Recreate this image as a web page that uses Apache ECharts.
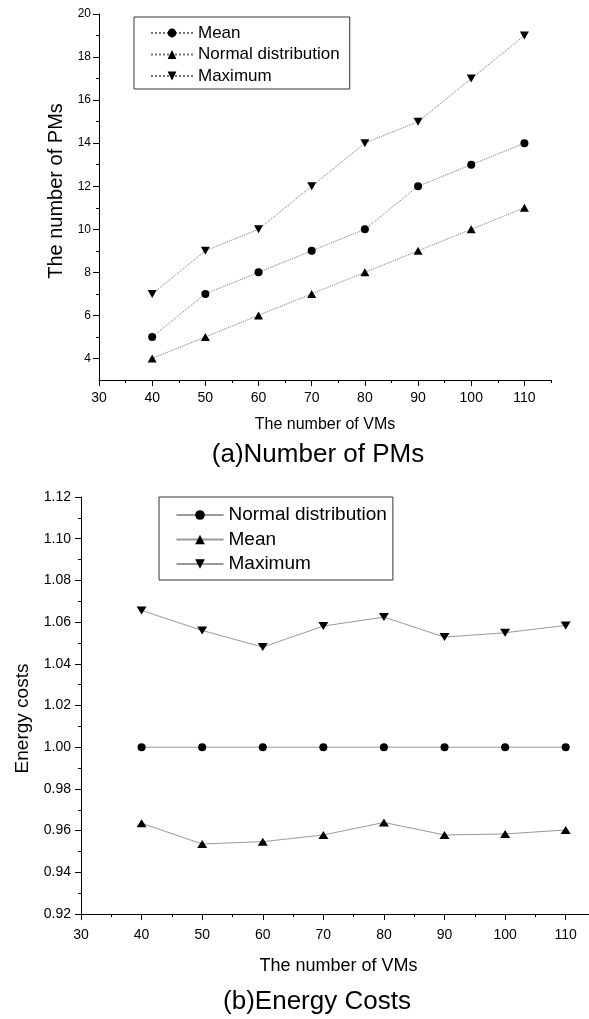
<!DOCTYPE html>
<html><head><meta charset="utf-8">
<script src="https://cdn.jsdelivr.net/npm/echarts@6/dist/echarts.min.js"></script>
<style>html,body{margin:0;padding:0;background:#fff}#c{width:589px;height:1019px}</style>
</head><body><div id="c"></div>
<script>
// ---- data ----
const vms = [40, 50, 60, 70, 80, 90, 100, 110];
const pmMean = [5, 7, 8, 9, 10, 12, 13, 14];
const pmNormal = [4, 5, 6, 7, 8, 9, 10, 11];
const pmMax = [7, 9, 10, 12, 14, 15, 17, 19];
const ecNormal = [1.00, 1.00, 1.00, 1.00, 1.00, 1.00, 1.00, 1.00];
const ecMean = [0.9635, 0.9536, 0.9547, 0.9579, 0.9639, 0.9579, 0.9584, 0.9603];
const ecMax = [1.0656, 1.0560, 1.0480, 1.0581, 1.0624, 1.0528, 1.0549, 1.0584];
// ---- tick labels ----
const xMajorTicks = [30, 40, 50, 60, 70, 80, 90, 100, 110];
const xMinorTicks = [35, 45, 55, 65, 75, 85, 95, 105, 115];
const pmMajorTicks = [4, 6, 8, 10, 12, 14, 16, 18, 20];
const pmMinorTicks = [5, 7, 9, 11, 13, 15, 17, 19];
const ecMajorTicks = [0.92, 0.94, 0.96, 0.98, 1.00, 1.02, 1.04, 1.06, 1.08, 1.10, 1.12];
const ecMinorTicks = [0.93, 0.95, 0.97, 0.99, 1.01, 1.03, 1.05, 1.07, 1.09, 1.11];

const FONT = '"Liberation Sans", Arial, sans-serif';
const pairs = (xs, ys) => xs.map((x, i) => [x, ys[i]]);

function majorAxis(grid, pos, min, max, ticks, fontSize, margin, fmt, name, nameGap, nameSize, namePad) {
  return {
    type: 'value', gridIndex: grid, position: pos, offset: 0, min: min, max: max,
    axisLine: { show: true, onZero: false, lineStyle: { color: '#000', width: 1 } },
    axisTick: { show: true, inside: false, length: 6, customValues: ticks, lineStyle: { color: '#000', width: 1 } },
    axisLabel: { show: true, customValues: ticks, fontSize: fontSize, fontFamily: FONT, color: '#000', margin: margin, formatter: fmt },
    splitLine: { show: false },
    name: name, nameLocation: 'middle', nameGap: nameGap,
    nameTextStyle: { fontSize: nameSize, fontFamily: FONT, color: '#000', padding: namePad }
  };
}
function minorAxis(grid, pos, min, max, ticks) {
  return {
    type: 'value', gridIndex: grid, position: pos, offset: 0, min: min, max: max,
    axisLine: { show: false, onZero: false },
    axisTick: { show: true, inside: false, length: 3, customValues: ticks, lineStyle: { color: '#000', width: 1 } },
    axisLabel: { show: false },
    splitLine: { show: false }
  };
}

const lineA = { color: '#777', width: 1, type: 'dotted' };
const lineB = { color: '#999', width: 1, type: 'solid' };

const option = {
  animation: false,
  backgroundColor: '#fff',
  textStyle: { fontFamily: FONT },
  grid: [
    { left: 99, top: 14, width: 452, height: 366, outerBoundsMode: 'none', containLabel: false },
    { left: 81, top: 497, width: 515, height: 417, outerBoundsMode: 'none', containLabel: false }
  ],
  xAxis: [
    majorAxis(0, 'bottom', 30, 115, xMajorTicks, 14, 11, v => String(v), 'The number of VMs', 37, 16, 0),
    minorAxis(0, 'bottom', 30, 115, xMinorTicks),
    majorAxis(1, 'bottom', 30, 115, xMajorTicks, 14, 14, v => String(v), 'The number of VMs', 43, 18, 0),
    minorAxis(1, 'bottom', 30, 115, xMinorTicks)
  ],
  yAxis: [
    majorAxis(0, 'left', 3, 20, pmMajorTicks, 12, 8, v => String(v), 'The number of PMs', 30, 20, [0, 0, 0, 12]),
    minorAxis(0, 'left', 3, 20, pmMinorTicks),
    majorAxis(1, 'left', 0.92, 1.12, ecMajorTicks, 14, 10, v => v.toFixed(2), 'Energy costs', 49, 19, [0, 26, 0, 0]),
    minorAxis(1, 'left', 0.92, 1.12, ecMinorTicks)
  ],
  legend: [
    {
      orient: 'vertical', left: 134, top: 17,
      data: ['Mean', 'Normal distribution', 'Maximum'],
      padding: [6, 10, 3, 16], itemWidth: 42, itemHeight: 11, itemGap: 1.5,
      borderColor: '#333', borderWidth: 1, selectedMode: false,
      textStyle: { fontSize: 17, lineHeight: 20, fontFamily: FONT, color: '#000' }
    },
    {
      orient: 'vertical', left: 159, top: 497,
      data: ['b:Normal distribution', 'b:Mean', 'b:Maximum'],
      formatter: n => n.replace(/^b:/, ''),
      padding: [7, 6, 5, 16.5], itemWidth: 47, itemHeight: 12, itemGap: 2.5,
      borderColor: '#333', borderWidth: 1, selectedMode: false,
      textStyle: { fontSize: 19, lineHeight: 22, fontFamily: FONT, color: '#000' }
    }
  ],
  graphic: [
    { type: 'text', x: 318, y: 455, style: { text: '(a)Number of PMs', fontSize: 26, fontFamily: FONT, fill: '#000', align: 'center', verticalAlign: 'middle' } },
    { type: 'text', x: 317, y: 1002, style: { text: '(b)Energy Costs', fontSize: 26, fontFamily: FONT, fill: '#000', align: 'center', verticalAlign: 'middle' } }
  ],
  series: [
    { name: 'Mean', type: 'line', xAxisIndex: 0, yAxisIndex: 0, data: pairs(vms, pmMean),
      symbol: 'circle', symbolSize: 8, itemStyle: { color: '#000' }, lineStyle: lineA },
    { name: 'Normal distribution', type: 'line', xAxisIndex: 0, yAxisIndex: 0, data: pairs(vms, pmNormal),
      symbol: 'triangle', symbolSize: [9, 8], itemStyle: { color: '#000' }, lineStyle: lineA },
    { name: 'Maximum', type: 'line', xAxisIndex: 0, yAxisIndex: 0, data: pairs(vms, pmMax),
      symbol: 'triangle', symbolRotate: 180, symbolSize: [9, 8], itemStyle: { color: '#000' }, lineStyle: lineA },
    { name: 'b:Normal distribution', type: 'line', xAxisIndex: 2, yAxisIndex: 2, data: pairs(vms, ecNormal),
      symbol: 'circle', symbolSize: 8, itemStyle: { color: '#000' }, lineStyle: lineB },
    { name: 'b:Mean', type: 'line', xAxisIndex: 2, yAxisIndex: 2, data: pairs(vms, ecMean),
      symbol: 'triangle', symbolSize: [10, 8], itemStyle: { color: '#000' }, lineStyle: lineB },
    { name: 'b:Maximum', type: 'line', xAxisIndex: 2, yAxisIndex: 2, data: pairs(vms, ecMax),
      symbol: 'triangle', symbolRotate: 180, symbolSize: [10, 8], itemStyle: { color: '#000' }, lineStyle: lineB }
  ]
};

const chart = echarts.init(document.getElementById('c'), null, { renderer: 'canvas', width: 589, height: 1019 });
chart.setOption(option);
</script>
</body></html>
